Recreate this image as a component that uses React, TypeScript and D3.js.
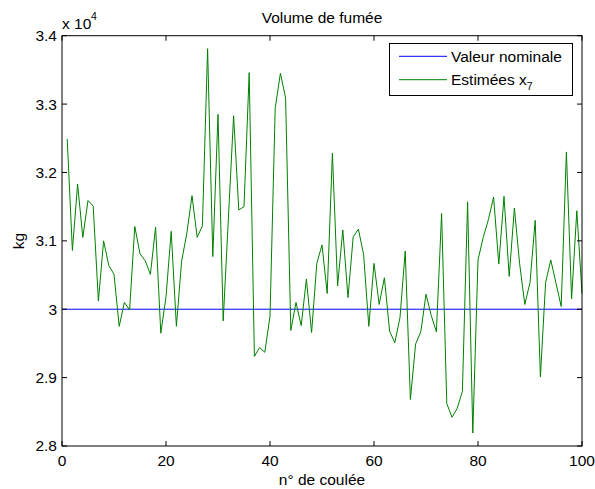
import React from "react";
import * as d3 from "d3";

const estimates: number[] = [
  3.249, 3.086, 3.183, 3.105, 3.159, 3.151, 3.012, 3.100, 3.064, 3.051,
  2.975, 3.010, 2.999, 3.121, 3.081, 3.071, 3.051, 3.120, 2.965, 3.018,
  3.114, 2.975, 3.070, 3.111, 3.166, 3.105, 3.122, 3.381, 3.077, 3.285,
  2.983, 3.133, 3.283, 3.145, 3.150, 3.346, 2.931, 2.944, 2.937, 2.990,
  3.294, 3.345, 3.309, 2.969, 3.010, 2.976, 3.044, 2.966, 3.067, 3.094,
  3.023, 3.228, 3.034, 3.116, 3.017, 3.106, 3.117, 3.080, 2.975, 3.067,
  3.007, 3.046, 2.968, 2.951, 2.988, 3.085, 2.868, 2.949, 2.967, 3.022,
  2.991, 2.967, 3.140, 2.862, 2.842, 2.855, 2.880, 3.157, 2.819, 3.072,
  3.105, 3.131, 3.164, 3.066, 3.165, 3.048, 3.148, 3.067, 3.007, 3.039,
  3.130, 2.901, 3.039, 3.072, 3.038, 3.004, 3.230, 3.015, 3.144, 3.023,
];
const nominal = 3.0;
const xTicks = [0, 20, 40, 60, 80, 100];
const yTicks = [2.8, 2.9, 3.0, 3.1, 3.2, 3.3, 3.4];
const yTickLabels = ["2.8", "2.9", "3", "3.1", "3.2", "3.3", "3.4"];
const title = "Volume de fumée";
const xLabel = "n° de coulée";
const yLabel = "kg";
const legendLabels = ["Valeur nominale", "Estimées x"];

export default function App() {
  const W = 595, H = 489;
  const left = 62, right = 582, top = 35.7, bottom = 446;
  const x = d3.scaleLinear().domain([0, 100]).range([left, right]);
  const y = d3.scaleLinear().domain([2.8, 3.4]).range([bottom, top]);
  const line = d3.line<number>().x((_, i) => x(i + 1)).y((d) => y(d));
  const font = "Liberation Sans, Arial, Helvetica, sans-serif";
  const fs = 15.5;
  const tl = 5;
  return (
    <div style={{ position: "absolute", left: 0, top: 0 }}>
      <svg width={W} height={H} style={{ display: "block" }} fontFamily={font}>
        <rect x={0} y={0} width={W} height={H} fill="white" />
        <line x1={x(0)} x2={x(100)} y1={y(nominal)} y2={y(nominal)} stroke="#0000ff" strokeWidth={1} />
        <path d={line(estimates) || ""} fill="none" stroke="#008000" strokeWidth={1} strokeLinejoin="miter" />
        <rect x={left} y={top} width={right - left} height={bottom - top} fill="none" stroke="black" strokeWidth={1} />
        {xTicks.map((t) => (
          <g key={"x" + t}>
            <line x1={x(t)} x2={x(t)} y1={bottom} y2={bottom - tl} stroke="black" />
            <line x1={x(t)} x2={x(t)} y1={top} y2={top + tl} stroke="black" />
            <text x={x(t)} y={466} fontSize={fs} textAnchor="middle" fill="black">{t}</text>
          </g>
        ))}
        {yTicks.map((t, i) => (
          <g key={"y" + t}>
            <line x1={left} x2={left + tl} y1={y(t)} y2={y(t)} stroke="black" />
            <line x1={right} x2={right - tl} y1={y(t)} y2={y(t)} stroke="black" />
            <text x={57} y={y(t)} dy="0.35em" fontSize={fs} textAnchor="end" fill="black">{yTickLabels[i]}</text>
          </g>
        ))}
        <text x={62} y={28.5} fontSize={fs} fill="black">x 10</text>
        <text x={91} y={20} fontSize={10.5} fill="black">4</text>
        <text x={(left + right) / 2} y={23} fontSize={fs} textAnchor="middle" fill="black">{title}</text>
        <text x={(left + right) / 2} y={485} fontSize={fs} textAnchor="middle" fill="black">{xLabel}</text>
        <text transform={`translate(24,241) rotate(-90)`} fontSize={fs} textAnchor="middle" fill="black">{yLabel}</text>
        <g>
          <rect x={389.5} y={43.5} width={183} height={52} fill="white" stroke="black" strokeWidth={1} />
          <line x1={399} x2={447} y1={56.3} y2={56.3} stroke="#0000ff" />
          <line x1={399} x2={447} y1={79.7} y2={79.7} stroke="#008000" />
          <text x={451} y={62} fontSize={fs} fill="black">{legendLabels[0]}</text>
          <text x={451} y={85.3} fontSize={fs} fill="black">{legendLabels[1]}<tspan fontSize={10.5} dy={5}>7</tspan></text>
        </g>
      </svg>
    </div>
  );
}
